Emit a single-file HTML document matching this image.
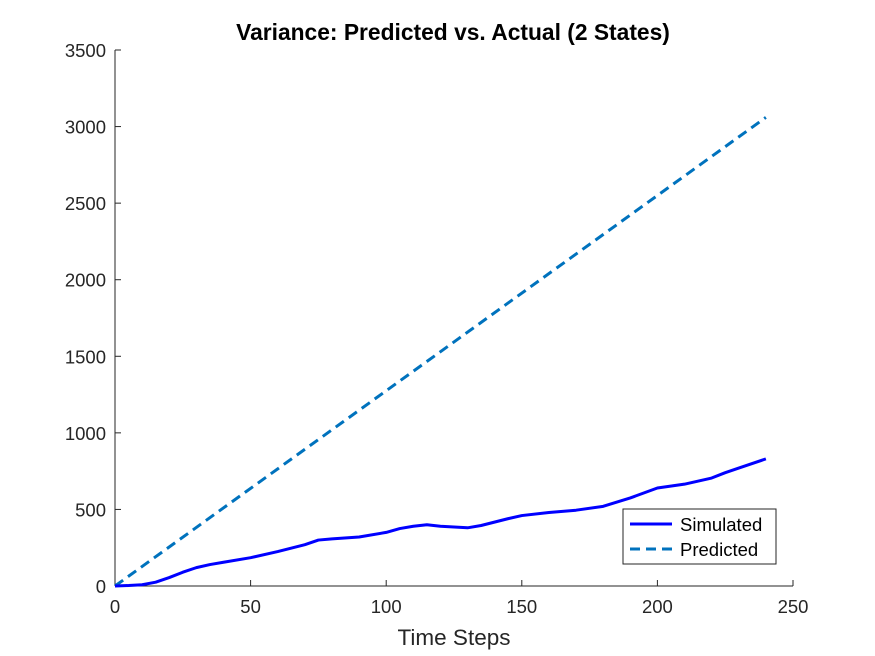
<!DOCTYPE html>
<html><head><meta charset="utf-8"><style>
body{margin:0;background:#fff;}
svg{display:block;font-family:"Liberation Sans",Arial,sans-serif;}
</style></head><body>
<svg id="chart" width="875" height="656">
<rect width="875" height="656" fill="#fff"/>
<text x="453" y="40" text-anchor="middle" font-size="22.8" font-weight="bold" fill="#000">Variance: Predicted vs. Actual (2 States)</text>
<g id="axes"></g>
<g id="series"></g>
<text x="454" y="645" text-anchor="middle" font-size="22.5" fill="#262626">Time Steps</text>
<g>
<rect x="623" y="509" width="153" height="55" fill="#fff" stroke="#262626" stroke-width="1"/>
<line x1="630" y1="524" x2="672" y2="524" stroke="#0000ff" stroke-width="3"/>
<text x="680" y="531" font-size="18.5" fill="#000">Simulated</text>
<line x1="630" y1="549" x2="672" y2="549" stroke="#0072bd" stroke-width="3" stroke-dasharray="10,6"/>
<text x="680" y="556" font-size="18.5" fill="#000">Predicted</text>
</g>
</svg>
<script>
const xTicks=[0,50,100,150,200,250];
const yTicks=[0,500,1000,1500,2000,2500,3000,3500];
const simX=[0,5,10,15,20,25,30,35,40,50,60,70,75,80,90,100,105,110,115,120,130,135,145,150,160,170,180,190,200,210,220,225,230,240];
const simY=[0,3,8,25,55,90,120,140,155,185,225,270,300,308,320,350,375,390,400,390,380,395,440,460,480,495,520,575,640,665,705,740,770,830];
const predX=[0,240];
const predY=[0,3060];
const X0=115,X1=793,Y0=586,Y1=50;
function sx(v){return X0+(v-0)/250*(X1-X0);}
function sy(v){return Y0-(v-0)/3500*(Y0-Y1);}
const NS="http://www.w3.org/2000/svg";
const ax=document.getElementById('axes');
function mk(t,a,p){const e=document.createElementNS(NS,t);for(const k in a)e.setAttribute(k,a[k]);p.appendChild(e);return e;}
let l=mk('line',{x1:X0,y1:Y0,x2:X1,y2:Y0,stroke:'#262626','stroke-width':1},ax);


l=mk('line',{x1:X0,y1:Y0,x2:X0,y2:Y1,stroke:'#262626','stroke-width':1},ax);


xTicks.forEach(v=>{const x=sx(v);
 mk('line',{x1:x,y1:Y0,x2:x,y2:Y0-6,stroke:'#262626'},ax);
 const t=mk('text',{x:x,y:Y0+27,'text-anchor':'middle','font-size':18.5,fill:'#262626'},ax);t.textContent=v;
 
 });
yTicks.forEach(v=>{const y=sy(v);
 mk('line',{x1:X0,y1:y,x2:X0+6,y2:y,stroke:'#262626'},ax);
 const t=mk('text',{x:X0-9,y:y+7,'text-anchor':'end','font-size':18.5,fill:'#262626'},ax);t.textContent=v;
 
 });
const sg=document.getElementById('series');
let p=mk('polyline',{points:predX.map((x,i)=>sx(x)+','+sy(predY[i])).join(' '),fill:'none',stroke:'#0072bd','stroke-width':3,'stroke-dasharray':'10,6'},sg);


p=mk('polyline',{points:simX.map((x,i)=>sx(x)+','+sy(simY[i])).join(' '),fill:'none',stroke:'#0000ff','stroke-width':3,'stroke-linejoin':'round'},sg);


</script>
</body></html>
